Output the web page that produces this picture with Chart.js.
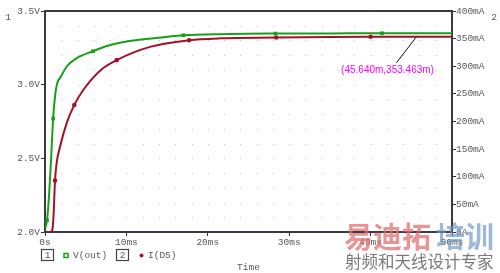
<!DOCTYPE html>
<html>
<head>
<meta charset="utf-8">
<script src="https://cdn.jsdelivr.net/npm/chart.js@4"></script>
<style>
  html, body { margin: 0; padding: 0; background: #fff; }
  #wrap { width: 500px; height: 273px; }
</style>
</head>
<body>
<div id="wrap"><canvas id="simChart" width="500" height="273"></canvas></div>
<script>
// V(out), volts, left axis
const timeV = [0, 0.25, 0.5, 0.75, 1.0, 1.25, 1.5, 1.9, 2.7, 3.9, 5.9, 7.6, 9.2, 10.9, 15, 17, 21.5, 28.3, 35, 41.4, 50];
const vOut = [2.02, 2.08, 2.25, 2.5, 2.77, 2.93, 3.01, 3.05, 3.125, 3.18, 3.227, 3.262, 3.285, 3.30, 3.325, 3.335, 3.343, 3.347, 3.348, 3.349, 3.349];
const vMarkers = [0.25, 1.0, 5.9, 17, 28.3, 41.4];

// I(D5), mA, right axis
const timeI = [0, 0.6, 0.9, 1.05, 1.23, 1.43, 1.84, 2.66, 3.6, 4.7, 6.76, 8.8, 12.9, 17.7, 21.5, 28.4, 35, 40, 45.64, 50];
const iD5 = [0, 0, 4, 30, 93, 125, 154, 197, 230, 257, 292, 311, 335, 347, 350.5, 352, 353, 353.4, 353.463, 353.5];
const iMarkers = [1.23, 3.6, 8.8, 17.7, 28.4, 40];

// axis ranges / tick steps
const timeRange = [0, 50];
const voltRange = [2.0, 3.5];
const ampRange = [0, 400];
const cursor = {t: 45.64, i: 353.463, label: '(45.640m,353.463m)'};

const green = '#17a017';
const red = '#a3122a';
const textGray = '#585858';
const mono = "'Liberation Mono', 'DejaVu Sans Mono', monospace";

function toPoints(xs, ys)
{
    return xs.map(function(x, i) { return {x: x, y: ys[i]}; });
}

const dotGrid = {
    id: 'dotGrid',
    beforeDatasetsDraw(chart) {
        const ctx = chart.ctx;
        const xs = chart.scales.x;
        const ys = chart.scales.y;
        ctx.save();
        ctx.fillStyle = '#c4c4c4';
        for (let t = timeRange[0] + 2; t < timeRange[1]; t += 2) {
            for (let k = 1; k < 15; k++) {
                const v = voltRange[0] + k * 0.1;
                ctx.fillRect(Math.round(xs.getPixelForValue(t)), Math.round(ys.getPixelForValue(v)), 1, 1);
            }
        }
        ctx.restore();
    }
};

const extras = {
    id: 'extras',
    afterDraw(chart) {
        const ctx = chart.ctx;
        const area = chart.chartArea;
        ctx.save();

        // top frame line
        ctx.strokeStyle = '#3a3a44';
        ctx.lineWidth = 2;
        ctx.beginPath();
        ctx.moveTo(area.left - 1, area.top);
        ctx.lineTo(area.right + 1, area.top);
        ctx.stroke();

        // axis numbers
        ctx.fillStyle = textGray;
        ctx.font = '9.5px ' + mono;
        ctx.textBaseline = 'middle';
        ctx.textAlign = 'center';
        ctx.fillText('1', 8, 17);
        ctx.fillText('2', 494, 17);

        // cursor annotation
        const px = chart.scales.x.getPixelForValue(cursor.t);
        const py = chart.scales.y1.getPixelForValue(cursor.i);
        ctx.strokeStyle = '#111';
        ctx.lineWidth = 1;
        ctx.beginPath();
        ctx.moveTo(px, py);
        ctx.lineTo(px - 20, py + 26);
        ctx.stroke();
        ctx.fillStyle = '#ff00ff';
        ctx.font = "10px 'Liberation Sans', Arial, sans-serif";
        ctx.fillText(cursor.label, px - 29, py + 34);

        // legend
        ctx.strokeStyle = '#444';
        ctx.lineWidth = 1.2;
        ctx.strokeRect(41.5, 249.5, 12, 11);
        ctx.strokeRect(116.5, 249.5, 12, 11);
        ctx.fillStyle = textGray;
        ctx.font = '9.5px ' + mono;
        ctx.fillText('1', 47.5, 255.5);
        ctx.fillText('2', 122.5, 255.5);
        ctx.textAlign = 'left';
        ctx.fillText('V(out)', 73, 255.5);
        ctx.fillText('I(D5)', 148, 255.5);
        ctx.strokeStyle = green;
        ctx.lineWidth = 1.5;
        ctx.strokeRect(64, 253.5, 4, 4);
        ctx.fillStyle = red;
        ctx.beginPath();
        ctx.arc(141.5, 255.5, 2, 0, Math.PI * 2);
        ctx.fill();

        // watermark
        ctx.textAlign = 'left';
        ctx.font = "bold 29px 'Noto Sans CJK SC', sans-serif";
        ctx.fillStyle = 'rgba(226, 108, 108, 0.72)';
        ctx.fillText('易迪拓', 344, 237);
        ctx.fillStyle = 'rgba(112, 150, 198, 0.68)';
        ctx.fillText('培训', 436, 237);
        ctx.fillStyle = '#7a7a7a';
        ctx.font = "16.5px 'Noto Sans CJK SC', sans-serif";
        ctx.fillText('射频和天线设计专家', 345, 262);

        ctx.restore();
    }
};

function markerRadius(times, marks, size)
{
    return function(c) {
        return marks.includes(times[c.dataIndex]) ? size : 0;
    };
}

function loadChart()
{
    const el = document.getElementById('simChart');
    new Chart(el, {
        type: 'line',
        data: {
            datasets: [{
                label: 'V(out)',
                data: toPoints(timeV, vOut),
                yAxisID: 'y',
                borderColor: green,
                backgroundColor: green,
                borderWidth: 2,
                cubicInterpolationMode: 'monotone',
                pointStyle: 'rect',
                pointRadius: markerRadius(timeV, vMarkers, 2.6),
                pointBorderWidth: 0,
            },
            {
                label: 'I(D5)',
                data: toPoints(timeI, iD5),
                yAxisID: 'y1',
                borderColor: red,
                backgroundColor: red,
                borderWidth: 2,
                cubicInterpolationMode: 'monotone',
                pointStyle: 'circle',
                pointRadius: markerRadius(timeI, iMarkers, 2.3),
                pointBorderWidth: 0,
            }]
        },
        options: {
            responsive: false,
            animation: false,
            events: [],
            layout: { padding: { top: 11, left: 0, right: 0, bottom: 0 } },
            plugins: {
                legend: { display: false },
                tooltip: { enabled: false },
            },
            scales: {
                x: {
                    type: 'linear',
                    min: timeRange[0],
                    max: timeRange[1],
                    afterFit: function(s) { s.height = 41; },
                    border: { display: true, color: '#3a3a44', width: 2 },
                    grid: { drawOnChartArea: false, tickLength: 4, tickColor: '#333' },
                    ticks: {
                        stepSize: 10,
                        autoSkip: false,
                        maxRotation: 0,
                        padding: 1,
                        color: textGray,
                        font: { family: mono, size: 9.5 },
                        callback: function(v) { return v == 0 ? '0s' : v + 'ms'; },
                    },
                    title: {
                        display: true,
                        text: 'Time',
                        color: textGray,
                        padding: 0,
                        font: { family: mono, size: 9.5 },
                    }
                },
                y: {
                    position: 'left',
                    min: voltRange[0],
                    max: voltRange[1],
                    afterFit: function(s) { s.width = 45; },
                    border: { display: true, color: '#3a3a44', width: 2 },
                    grid: { drawOnChartArea: false, tickLength: 4, tickColor: '#333' },
                    ticks: {
                        stepSize: 0.5,
                        padding: 1,
                        color: textGray,
                        font: { family: mono, size: 9.5 },
                        callback: function(v) { return v.toFixed(1) + 'V'; },
                    }
                },
                y1: {
                    position: 'right',
                    min: ampRange[0],
                    max: ampRange[1],
                    afterFit: function(s) { s.width = 48; },
                    border: { display: true, color: '#3a3a44', width: 2 },
                    grid: { drawOnChartArea: false, tickLength: 4, tickColor: '#333' },
                    ticks: {
                        stepSize: 50,
                        padding: 0,
                        color: textGray,
                        font: { family: mono, size: 9.5 },
                        callback: function(v) { return v == 0 ? '0A' : v + 'mA'; },
                    }
                }
            }
        },
        plugins: [dotGrid, extras]
    });
}

loadChart();
</script>
</body>
</html>
